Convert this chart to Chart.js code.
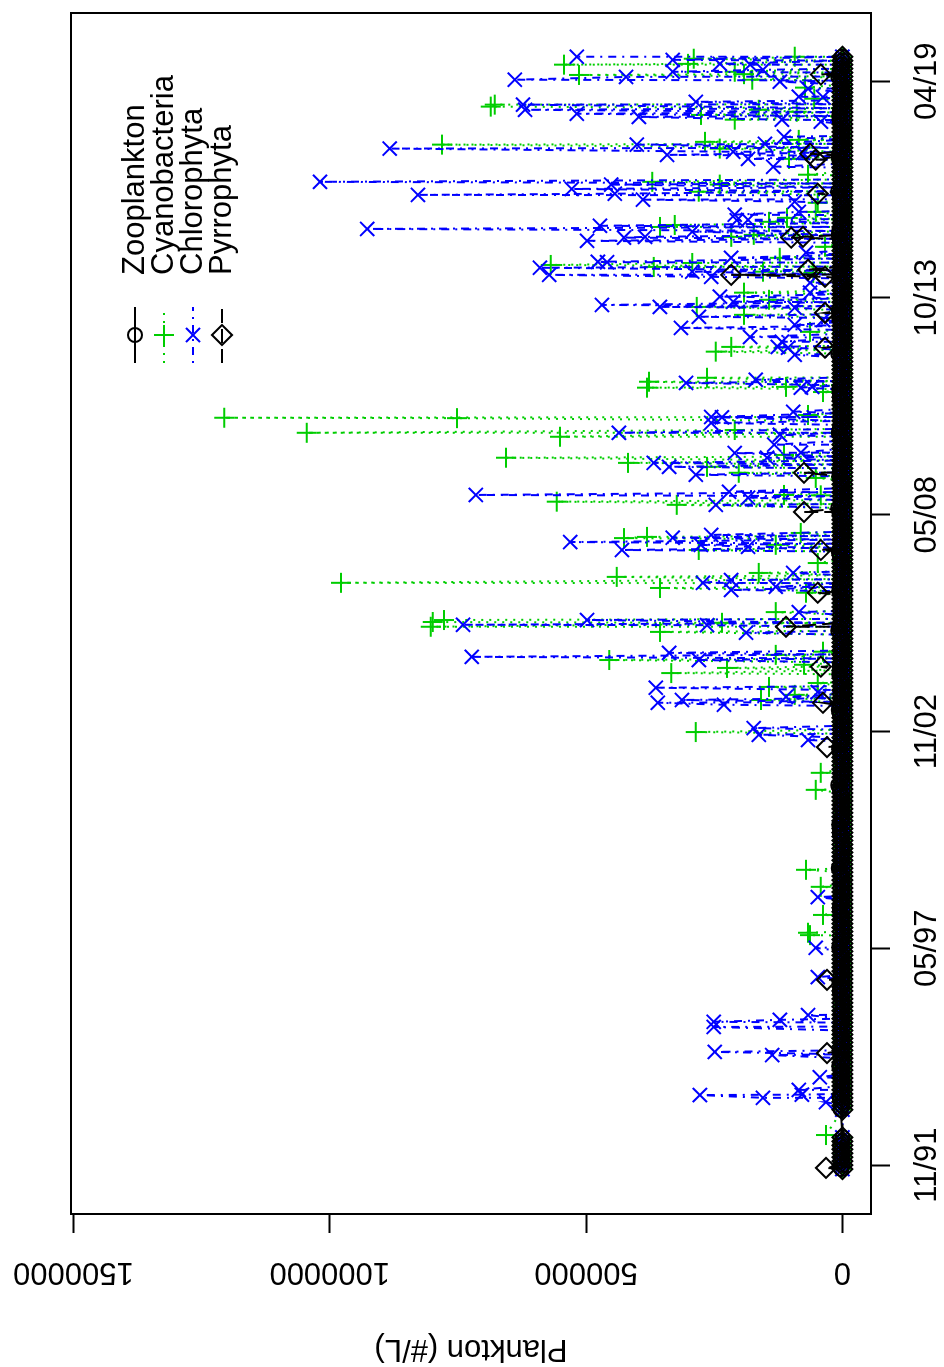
<!DOCTYPE html>
<html>
<head>
<meta charset="utf-8">
<script src="https://cdn.jsdelivr.net/npm/chart.js@4.4.1/dist/chart.umd.min.js"></script>
<style>
  html, body { margin: 0; padding: 0; background: #fff; overflow: hidden; }
  /* the R figure was saved sideways: draw it upright, then turn it a quarter left */
  #wrap { position: absolute; left: 0; top: 0; width: 1367px; height: 944px;
          transform-origin: 0 0; transform: translate(0, 1367px) rotate(-90deg); }
  canvas { display: block; }
</style>
</head>
<body>
<div id="wrap"><canvas id="plankton" width="1367" height="944"></canvas></div>
<script>
// sampling dates (decimal years) and zooplankton counts, which stay on the zero line
const sampleYears = [
  1991.8, 1991.9, 1992.0, 1992.1, 1992.2, 1992.3, 1992.4, 1992.5, 1992.6,
  1993.3, 1993.4, 1993.5, 1993.6, 1993.7, 1993.8, 1993.9,
  1994.0, 1994.1, 1994.2, 1994.3, 1994.4, 1994.5, 1994.6, 1994.7, 1994.8, 1994.9,
  1995.0, 1995.1, 1995.2, 1995.3, 1995.4, 1995.5, 1995.6, 1995.7, 1995.8, 1995.9,
  1996.0, 1996.1, 1996.2, 1996.3, 1996.4, 1996.5, 1996.6, 1996.7, 1996.8, 1996.9,
  1997.0, 1997.1, 1997.2, 1997.3, 1997.4, 1997.5, 1997.6, 1997.7, 1997.8, 1997.9,
  1998.0, 1998.1, 1998.2, 1998.3, 1998.4, 1998.5, 1998.6, 1998.7, 1998.8, 1998.9,
  1999.0, 1999.1, 1999.2, 1999.3, 1999.4, 1999.5, 1999.6, 1999.7, 1999.8, 1999.9,
  2000.0, 2000.1, 2000.2, 2000.3, 2000.4, 2000.5, 2000.6, 2000.7, 2000.8, 2000.9,
  2001.0, 2001.1, 2001.2, 2001.3, 2001.4, 2001.5, 2001.6, 2001.7, 2001.8, 2001.9,
  2002.0, 2002.1, 2002.2, 2002.3, 2002.4, 2002.5, 2002.6, 2002.7, 2002.8, 2002.9,
  2003.0, 2003.1, 2003.2, 2003.3, 2003.4, 2003.5, 2003.6, 2003.7, 2003.8, 2003.9,
  2004.0, 2004.1, 2004.2, 2004.3, 2004.4, 2004.5, 2004.6, 2004.7, 2004.8, 2004.9,
  2005.0, 2005.1, 2005.2, 2005.3, 2005.4, 2005.5, 2005.6, 2005.7, 2005.8, 2005.9,
  2006.0, 2006.1, 2006.2, 2006.3, 2006.4, 2006.5, 2006.6, 2006.7, 2006.8, 2006.9,
  2007.0, 2007.1, 2007.2, 2007.3, 2007.4, 2007.5, 2007.6, 2007.7, 2007.8, 2007.9,
  2008.0, 2008.1, 2008.2, 2008.3, 2008.4, 2008.5, 2008.6, 2008.7, 2008.8, 2008.9,
  2009.0, 2009.1, 2009.2, 2009.3, 2009.4, 2009.5, 2009.6, 2009.7, 2009.8, 2009.9,
  2010.0, 2010.1, 2010.2, 2010.3, 2010.4, 2010.5, 2010.6, 2010.7, 2010.8, 2010.9,
  2011.0, 2011.1, 2011.2, 2011.3, 2011.4, 2011.5, 2011.6, 2011.7, 2011.8, 2011.9,
  2012.0, 2012.1, 2012.2, 2012.3, 2012.4, 2012.5, 2012.6, 2012.7, 2012.8, 2012.9,
  2013.0, 2013.1, 2013.2, 2013.3, 2013.4, 2013.5, 2013.6, 2013.7, 2013.8, 2013.9,
  2014.0, 2014.1, 2014.2, 2014.3, 2014.4, 2014.5, 2014.6, 2014.7, 2014.8, 2014.9,
  2015.0, 2015.1, 2015.2, 2015.3, 2015.4, 2015.5, 2015.6, 2015.7, 2015.8, 2015.9,
  2016.0, 2016.1, 2016.2, 2016.3, 2016.4, 2016.5, 2016.6, 2016.7, 2016.8, 2016.9,
  2017.0, 2017.1, 2017.2, 2017.3, 2017.4, 2017.5, 2017.6, 2017.7, 2017.8, 2017.9,
  2018.0, 2018.1, 2018.2, 2018.3, 2018.4, 2018.5, 2018.6, 2018.7, 2018.8, 2018.9,
  2019.0, 2019.1, 2019.2, 2019.3, 2019.4, 2019.5, 2019.6, 2019.7, 2019.8, 2019.9
];
const zooplankton = [
  2000, 0, 3000, 1000, 0, 2000, 4000, 1000, 0,
  3000, 1000, 0, 5000, 2000, 0, 1000,
  0, 2000, 3000, 1000, 6000, 2000, 0, 1000, 3000, 0,
  1000, 0, 2000, 4000, 3000, 1000, 0, 2000, 1000, 0,
  0, 1000, 3000, 5000, 2000, 0, 1000, 0, 2000, 1000,
  2000, 0, 1000, 3000, 6000, 4000, 1000, 0, 0, 1000,
  0, 2000, 1000, 4000, 5000, 2000, 3000, 0, 1000, 0,
  1000, 0, 2000, 3000, 7000, 3000, 1000, 2000, 0, 0,
  0, 1000, 2000, 5000, 4000, 6000, 2000, 1000, 0, 1000,
  2000, 0, 1000, 3000, 5000, 8000, 3000, 1000, 2000, 0,
  0, 1000, 0, 4000, 6000, 3000, 2000, 0, 1000, 0,
  1000, 0, 2000, 5000, 7000, 4000, 2000, 1000, 0, 2000,
  0, 1000, 3000, 6000, 4000, 5000, 1000, 2000, 0, 1000,
  2000, 0, 1000, 4000, 8000, 6000, 3000, 1000, 0, 0,
  1000, 0, 2000, 3000, 6000, 5000, 2000, 0, 1000, 0,
  0, 2000, 1000, 5000, 7000, 3000, 4000, 1000, 0, 1000,
  1000, 0, 3000, 4000, 6000, 8000, 2000, 1000, 0, 2000,
  0, 1000, 2000, 6000, 5000, 4000, 3000, 0, 1000, 0,
  2000, 0, 1000, 3000, 7000, 5000, 2000, 1000, 0, 1000,
  0, 1000, 2000, 5000, 4000, 6000, 1000, 0, 2000, 0,
  1000, 0, 3000, 4000, 8000, 3000, 2000, 1000, 0, 0,
  0, 2000, 1000, 6000, 5000, 7000, 3000, 0, 1000, 1000,
  2000, 0, 2000, 3000, 6000, 4000, 2000, 1000, 0, 0,
  0, 1000, 3000, 5000, 7000, 6000, 2000, 0, 1000, 2000,
  1000, 0, 2000, 4000, 5000, 8000, 3000, 1000, 0, 0,
  0, 2000, 1000, 6000, 7000, 4000, 2000, 0, 1000, 1000,
  1000, 0, 3000, 5000, 6000, 5000, 3000, 1000, 0, 0,
  0, 1000, 2000, 4000, 8000, 6000, 2000, 1000, 0, 1000
];

// algae counts; every other sampling date sits on zero
const cyanoYears = [
  1992.66, 1997.71, 1997.77, 1998.22, 1998.93, 1999.36, 2001.38, 2001.81, 2002.84,
  2003.65, 2003.78, 2003.98, 2004.08, 2004.33, 2004.46, 2004.54, 2004.66, 2004.79, 2004.87,
  2005.37, 2005.50, 2005.60, 2005.62, 2005.67, 2005.87, 2006.36, 2006.48, 2006.61, 2006.76, 2006.86,
  2007.11, 2007.44, 2007.57, 2007.74, 2007.77, 2007.87, 2008.58, 2008.66, 2008.82, 2008.83,
  2009.26, 2009.39, 2009.54, 2009.64, 2009.77, 2009.84, 2010.30, 2010.40, 2010.47, 2010.77, 2010.78, 2010.85,
  2011.43, 2011.54, 2011.56, 2011.69, 2011.79, 2012.45, 2012.57, 2012.95,
  2013.38, 2013.58, 2013.76, 2013.94, 2014.44, 2014.47, 2014.59, 2014.64, 2014.69, 2014.82,
  2015.10, 2015.35, 2015.40, 2015.60, 2015.65, 2015.73, 2015.83, 2015.98,
  2016.21, 2016.49, 2016.67, 2016.74, 2016.92,
  2017.32, 2017.58, 2017.68, 2017.75, 2017.80, 2018.31, 2018.43, 2018.51, 2018.56, 2018.64, 2018.69, 2018.84,
  2019.12, 2019.32, 2019.44, 2019.46, 2019.52, 2019.70, 2019.72, 2019.85, 2019.90
];
const cyanoValues = [
  32000, 63000, 67000, 38000, 42000, 71000, 52000, 42000, 286000,
  159000, 93000, 143000, 48000, 334000, 225000, 75000, 455000, 130000, 38000,
  356000, 803000, 235000, 799000, 777000, 130000, 71000, 356000, 978000, 440000, 163000,
  48000, 280000, 130000, 426000, 381000, 81000, 323000, 557000, 42000, 114000,
  52000, 202000, 264000, 418000, 656000, 114000, 551000, 1045000, 210000, 752000, 1206000, 67000,
  38000, 381000, 110000, 377000, 264000, 247000, 217000, 63000,
  192000, 284000, 143000, 192000, 57000, 155000, 368000, 569000, 293000, 122000,
  34000, 217000, 173000, 356000, 327000, 143000, 108000, 52000,
  48000, 280000, 239000, 371000, 67000,
  104000, 239000, 781000, 268000, 85000, 210000, 276000, 89000, 163000, 686000, 678000, 55000,
  73000, 176000, 514000, 192000, 210000, 543000, 301000, 290000, 93000
];

const chloroYears = [
  1993.49, 1993.60, 1993.67, 1993.68, 1993.80, 1994.12, 1994.68, 1994.76,
  1995.39, 1995.52, 1995.57, 1995.69, 1996.65, 1997.39, 1998.67,
  2002.64, 2002.77, 2002.94, 2003.53, 2003.58, 2003.65, 2003.73, 2003.85, 2003.96,
  2004.66, 2004.74, 2004.84, 2005.35, 2005.54, 2005.55, 2005.67, 2005.87,
  2006.43, 2006.51, 2006.61, 2006.68, 2006.86, 2007.44, 2007.52, 2007.57, 2007.64, 2007.75, 2007.82,
  2008.58, 2008.76, 2008.83, 2008.91, 2009.34, 2009.54, 2009.64, 2009.77, 2009.89, 2009.90,
  2010.10, 2010.35, 2010.40, 2010.65, 2010.79, 2010.80, 2010.93, 2011.54, 2011.56, 2011.66, 2011.74,
  2012.37, 2012.55, 2012.57, 2012.70, 2012.82, 2013.05, 2013.13, 2013.25, 2013.33, 2013.56, 2013.58, 2013.63, 2013.71, 2013.84, 2013.94,
  2014.19, 2014.34, 2014.39, 2014.47, 2014.57, 2014.71, 2014.72, 2014.82, 2014.95,
  2015.25, 2015.33, 2015.35, 2015.48, 2015.55, 2015.63, 2015.77, 2015.78, 2015.91, 2015.98,
  2016.24, 2016.29, 2016.41, 2016.44, 2016.56, 2016.67, 2016.74,
  2017.12, 2017.32, 2017.42, 2017.47, 2017.50, 2017.58, 2017.68, 2017.70, 2017.88,
  2018.26, 2018.31, 2018.38, 2018.46, 2018.56, 2018.69, 2018.76, 2018.88, 2018.89,
  2019.09, 2019.27, 2019.32, 2019.39, 2019.52, 2019.57, 2019.70, 2019.72, 2019.82, 2019.90
];
const chloroValues = [
  32000, 155000, 278000, 79000, 85000, 44000, 137000, 249000,
  251000, 251000, 122000, 67000, 48000, 52000, 48000,
  67000, 163000, 173000, 231000, 360000, 313000, 110000, 48000, 364000,
  280000, 723000, 338000, 188000, 264000, 740000, 498000, 85000,
  217000, 130000, 272000, 217000, 96000, 430000, 184000, 276000, 531000, 331000, 256000,
  247000, 184000, 715000, 221000, 286000, 338000, 368000, 147000, 210000, 81000,
  133000, 122000, 436000, 256000, 235000, 256000, 96000, 81000, 59000, 305000, 169000,
  93000, 106000, 126000, 118000, 180000, 315000, 93000, 38000, 280000, 93000, 356000, 469000, 213000, 239000, 63000,
  63000, 256000, 572000, 293000, 590000, 459000, 477000, 217000, 71000,
  498000, 426000, 385000, 293000, 927000, 473000, 206000, 184000, 210000, 85000,
  93000, 389000, 828000, 444000, 528000, 451000, 1019000,
  135000, 184000, 342000, 77000, 213000, 883000, 401000, 151000, 114000,
  42000, 118000, 397000, 518000, 619000, 623000, 286000, 38000, 85000,
  67000, 122000, 639000, 422000, 331000, 155000, 180000, 239000, 331000, 518000
];

const pyrroYears = [
  1991.83, 1994.73, 1996.58, 2002.46, 2003.58, 2004.49, 2005.50, 2006.36, 2007.44, 2008.40, 2009.39,
  2012.55, 2013.43, 2014.34, 2014.39, 2014.52, 2015.33, 2015.35, 2016.44, 2017.30, 2017.45, 2019.45
];
const pyrroValues = [
  32000, 30000, 30000, 30000, 38000, 42000, 110000, 48000, 42000, 75000, 75000,
  34000, 34000, 34000, 217000, 67000, 100000, 77000, 48000, 52000, 63000, 42000
];

// axes
const dateTicks = [1991.90, 1997.38, 2002.85, 2008.33, 2013.81, 2019.28];
const dateTickLabels = ['11/91', '05/97', '11/02', '05/08', '10/13', '04/19'];
const countTicks = [0, 500000, 1000000, 1500000];

const FONT = "'Liberation Sans', Arial, Helvetica, sans-serif";
Chart.defaults.font.family = FONT;
Chart.defaults.color = '#000';

function onBaseline(years, values) {
  const pts = sampleYears.map(x => ({ x, y: 0 }));
  years.forEach((x, i) => pts.push({ x, y: values[i] }));
  return pts.sort((a, b) => a.x - b.x);
}

const plotBox = {
  id: 'plotBox',
  afterDraw(chart) {
    const { ctx, chartArea: a } = chart;
    ctx.save();
    ctx.strokeStyle = '#000';
    ctx.lineWidth = 2;
    ctx.strokeRect(a.left, a.top, a.right - a.left, a.bottom - a.top);
    ctx.restore();
  }
};

// R style legend: line sample with the symbol on it, no frame
const rLegend = {
  id: 'rLegend',
  afterDraw(chart) {
    const { ctx, chartArea: a } = chart;
    const x0 = a.right - 350, x1 = a.right - 294, tx = a.right - 262;
    ctx.save();
    ctx.font = '31px ' + FONT;
    ctx.textBaseline = 'middle';
    ctx.textAlign = 'left';
    chart.data.datasets.forEach((ds, i) => {
      const y = a.top + 64 + i * 29;
      ctx.strokeStyle = ds.borderColor;
      ctx.lineWidth = ds.borderWidth;
      ctx.setLineDash(ds.borderDash || []);
      ctx.beginPath(); ctx.moveTo(x0, y); ctx.lineTo(x1, y); ctx.stroke();
      ctx.setLineDash([]);
      ctx.fillStyle = 'rgba(0,0,0,0)';
      ctx.strokeStyle = ds.pointBorderColor;
      ctx.lineWidth = ds.pointBorderWidth;
      Chart.helpers.drawPoint(ctx, { pointStyle: ds.pointStyle, radius: ds.pointRadius, rotation: 0, borderWidth: ds.pointBorderWidth }, (x0 + x1) / 2, y);
      ctx.fillStyle = '#000';
      ctx.fillText(ds.label, tx, y);
    });
    ctx.restore();
  }
};

const LW = 2;
new Chart(document.getElementById('plankton'), {
  type: 'scatter',
  data: {
    datasets: [
      { label: 'Zooplankton', data: sampleYears.map((x, i) => ({ x, y: zooplankton[i] })),
        showLine: true, borderColor: '#000000', borderWidth: LW, borderDash: [],
        pointStyle: 'circle', pointRadius: 7, pointBorderWidth: LW,
        pointBorderColor: '#000000', pointBackgroundColor: 'rgba(0,0,0,0)', order: 0 },
      { label: 'Cyanobacteria', data: onBaseline(cyanoYears, cyanoValues),
        showLine: true, borderColor: '#00cd00', borderWidth: LW, borderDash: [2, 6],
        pointStyle: 'cross', pointRadius: 10, pointBorderWidth: LW,
        pointBorderColor: '#00cd00', pointBackgroundColor: 'rgba(0,0,0,0)', order: 3 },
      { label: 'Chlorophyta', data: onBaseline(chloroYears, chloroValues),
        showLine: true, borderColor: '#0000ff', borderWidth: LW, borderDash: [2, 6, 8, 6],
        pointStyle: 'crossRot', pointRadius: 10, pointBorderWidth: LW,
        pointBorderColor: '#0000ff', pointBackgroundColor: 'rgba(0,0,0,0)', order: 2 },
      { label: 'Pyrrophyta', data: onBaseline(pyrroYears, pyrroValues),
        showLine: true, borderColor: '#000000', borderWidth: LW, borderDash: [14, 6],
        pointStyle: 'rectRot', pointRadius: 10, pointBorderWidth: LW,
        pointBorderColor: '#000000', pointBackgroundColor: 'rgba(0,0,0,0)', order: 1 }
    ]
  },
  options: {
    responsive: false,
    animation: false,
    events: [],
    layout: { padding: { left: 0, right: 13, top: 71, bottom: 0 } },
    plugins: { legend: { display: false }, tooltip: { enabled: false } },
    elements: { line: { tension: 0 } },
    scales: {
      x: {
        type: 'linear', position: 'bottom', min: 1990.665, max: 2021.005,
        afterBuildTicks: s => { s.ticks = dateTicks.map(v => ({ value: v })); },
        afterFit: s => { s.height = 73; },
        ticks: { autoSkip: false, minRotation: 0, maxRotation: 0, padding: 19,
                 font: { size: 31 }, color: '#000', callback: (v, i) => dateTickLabels[i] },
        grid: { display: true, drawOnChartArea: false, drawTicks: true, tickLength: 19, tickWidth: 2, tickColor: '#000' },
        border: { display: false }
      },
      y: {
        type: 'linear', position: 'left', min: -55800, max: 1504700,
        afterBuildTicks: s => { s.ticks = countTicks.map(v => ({ value: v })); },
        afterFit: s => { s.width = 153; },
        ticks: { autoSkip: false, minRotation: 90, maxRotation: 90, crossAlign: 'center', padding: -21.7,
                 font: { size: 31 }, color: '#000', callback: v => String(v) },
        grid: { display: true, drawOnChartArea: false, drawTicks: true, tickLength: 19, tickWidth: 2, tickColor: '#000' },
        border: { display: false },
        title: { display: true, text: 'Plankton (#/L)', font: { size: 31 }, color: '#000', padding: { top: 0, bottom: 0 } }
      }
    }
  },
  plugins: [plotBox, rLegend]
});
</script>
</body>
</html>
